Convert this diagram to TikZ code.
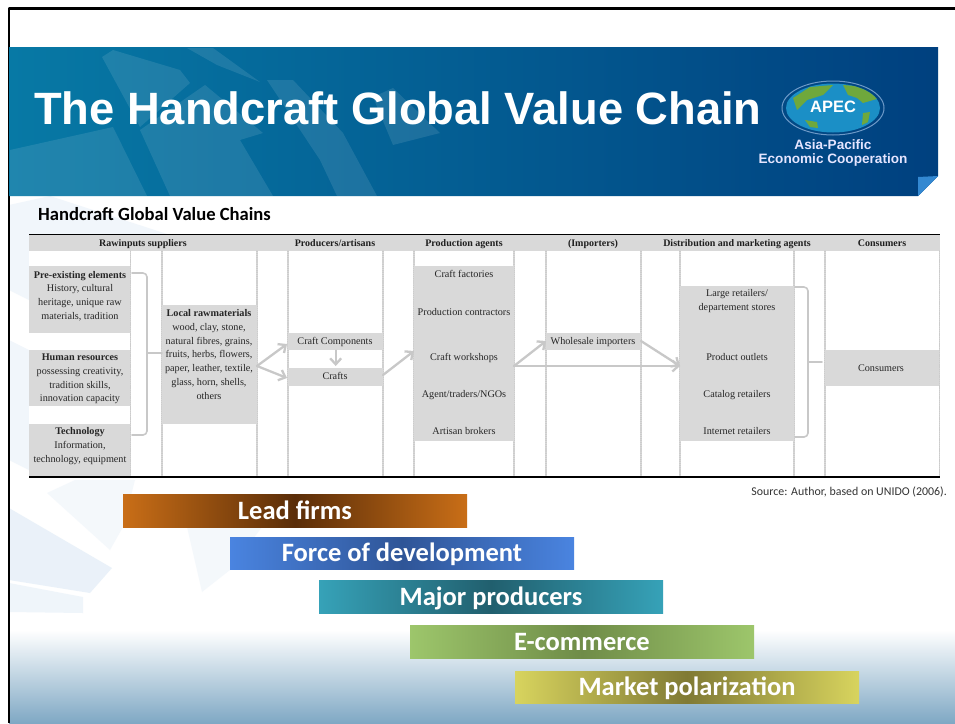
\documentclass[tikz,border=0pt]{standalone}
\usepackage{fontspec}
\setmainfont{Liberation Serif}
\newfontfamily\carlito{Carlito}
\newfontfamily\arialfont{Liberation Sans}
\usepackage{tikz}
\usetikzlibrary{arrows.meta}
\definecolor{cellgray}{HTML}{D9D9D9}
\definecolor{flowgray}{HTML}{C8C8C8}
\definecolor{headdark}{HTML}{00407F}
\definecolor{headmid}{HTML}{0779A5}
\definecolor{bottommid}{HTML}{C6E0E9}
\definecolor{bottomblue}{HTML}{7FA8C4}
\definecolor{wash}{HTML}{DCE9F5}
\definecolor{oceanblue}{HTML}{1B8FC6}
\definecolor{landgreen}{HTML}{6FA83C}
\definecolor{ringblue}{HTML}{6E9AC8}
\definecolor{leadedge}{HTML}{C96E17}
\definecolor{leadmid}{HTML}{5A2D08}
\definecolor{forceedge}{HTML}{4A84E0}
\definecolor{forcemid}{HTML}{2F5597}
\definecolor{majoredge}{HTML}{36A2B8}
\definecolor{majormid}{HTML}{215F6E}
\definecolor{ecomedge}{HTML}{9DC66B}
\definecolor{ecommid}{HTML}{6F8C48}
\definecolor{marketedge}{HTML}{D8D45E}
\definecolor{marketmid}{HTML}{807A35}
\tikzset{
  >={Straight Barb[length=6pt, width=11pt]},
  cell/.style={fill=cellgray, inner sep=0pt, anchor=north west},
  celltext/.style={align=center, inner sep=0pt, text=black!85, font=\fontsize{10.2}{13.7}\selectfont},
  linetext/.style={celltext, text height=9pt, text depth=2.5pt},
  headtext/.style={inner sep=0pt, text=black!88, text height=9pt, text depth=2pt, font=\bfseries\fontsize{10}{12}\selectfont},
  flow/.style={->, flowgray, line width=2.3pt},
  brace/.style={flowgray, line width=1.6pt, rounded corners=4pt},
  sep/.style={black!20, densely dotted, line width=1.1pt},
  bar/.style={inner sep=0pt, minimum width=344pt, text=white, text height=21pt, text depth=4pt, font=\carlito\bfseries\fontsize{26.5}{30}\selectfont},
  bannerleaf/.style={fill=white, opacity=0.1},
}
\begin{document}
\begin{tikzpicture}[x=1pt, y=-1pt, line cap=round, line join=round]
    \useasboundingbox (0,0) rectangle (955,723);
    \fill[white] (0,0) rectangle (955,723);

    % background wash
    \shade[top color=white, middle color=bottommid, bottom color=bottomblue] (9,630) rectangle (955,723);
    \fill[wash, opacity=0.4] (9,205) -- (50,196) -- (170,235) -- (29,235) -- (29,300) -- (9,290) -- cycle;
    \fill[wash, opacity=0.4] (9,340) -- (29,350) -- (29,470) -- (9,460) -- cycle;
    \fill[wash, opacity=0.6] (9,508) -- (112,568) -- (90,593) -- (9,580) -- cycle;
    \fill[wash, opacity=0.45] (9,583) -- (83,597) -- (83,613) -- (9,612) -- cycle;
    \fill[wash, opacity=0.3] (47,493) -- (75,480) -- (135,480) -- (123,527) -- (110,550) -- cycle;
    \fill[wash, opacity=0.3] (187,527) -- (262,527) -- (230,570) -- (202,592) -- cycle;

    % frame
    \draw[black, line width=2.4pt, line cap=butt] (9,723) -- (9,8.5) -- (955,8.5);

    % banner
    \shade[left color=headmid, right color=headdark] (9,47) -- (938,47) -- (938,176) -- (918,196) -- (9,196) -- cycle;
    \fill[bannerleaf] (10,150) -- (113,127) -- (147,196) -- (10,196) -- cycle;
    \fill[bannerleaf] (140,130) -- (205,85) -- (263,133) -- (240,140) -- (273,196) -- (170,196) -- cycle;
    \fill[bannerleaf] (102,57) -- (113,50) -- (180,70) -- (190,83) -- (140,127) -- cycle;
    \fill[bannerleaf] (267,80) -- (293,80) -- (343,133) -- (377,196) -- (337,196) -- (320,160) -- cycle;
    \fill[bannerleaf] (373,97) -- (393,88) -- (440,133) -- (393,145) -- cycle;
    \fill[bannerleaf] (187,48) -- (213,48) -- (260,82) -- (217,65) -- cycle;
    \fill[cyan!60!blue!85!white] (918,196) -- (938,176) -- (918,177) -- cycle;
    \node[inner sep=0pt, anchor=west, text=white, font=\arialfont\bfseries\fontsize{45.3}{50}\selectfont] (title) at (34,108) {The Handcraft Global Value Chain};

    % logo
    \draw[ringblue, line width=1pt] (833,108) ellipse (51 and 27);
    \begin{scope}
        \clip (833,108) ellipse (47 and 24.5);
        \fill[oceanblue] (783,82) rectangle (883,134);
        \fill[landgreen] (793,98) -- (810,87) -- (833,85) -- (823,95) -- (807,100) -- (797,110) -- cycle;
        \fill[landgreen] (843,85) -- (867,87) -- (880,98) -- (863,103) -- (857,98) -- (848,95) -- cycle;
        \fill[landgreen] (805,120) -- (817,122) -- (818,128) -- (810,127) -- cycle;
        \fill[landgreen] (863,113) -- (870,112) -- (868,122) -- (862,125) -- cycle;
    \end{scope}
    \node[inner sep=0pt, text=white, font=\arialfont\bfseries\fontsize{16.5}{18}\selectfont] (apec) at (833,107) {APEC};
    \node[inner sep=0pt, align=center, text=white!90!blue, font=\arialfont\bfseries\fontsize{13.6}{13.5}\selectfont] (apecname) at (833,153) {Asia-Pacific\\Economic Cooperation};

    % table heading
    \node[inner sep=0pt, anchor=west, font=\carlito\bfseries\fontsize{18.6}{20}\selectfont] (tabletitle) at (38,214) {Handcraft Global Value Chains};

    % table body
    \fill[white] (29,235) rectangle (940,477);
    \fill[cellgray] (29,235) rectangle (940,251);
    \draw[sep] (130.5,251) -- (130.5,477);
    \draw[sep] (162,251) -- (162,477);
    \draw[sep] (257,251) -- (257,477);
    \draw[sep] (288,251) -- (288,477);
    \draw[sep] (383,251) -- (383,477);
    \draw[sep] (414,251) -- (414,477);
    \draw[sep] (514,251) -- (514,477);
    \draw[sep] (546,251) -- (546,477);
    \draw[sep] (641,251) -- (641,477);
    \draw[sep] (680,251) -- (680,477);
    \draw[sep] (794,251) -- (794,477);
    \draw[sep] (825,251) -- (825,477);
    \draw[sep] (939.5,251) -- (939.5,477);

    % gray cells
    \node[cell, minimum width=101pt, minimum height=67pt] (preexisting) at (29,266) {};
    \node[cell, minimum width=101pt, minimum height=56pt] (human) at (29,350) {};
    \node[cell, minimum width=101pt, minimum height=53pt] (technology) at (29,424) {};
    \node[cell, minimum width=95pt, minimum height=119pt] (localraw) at (162,305) {};
    \node[cell, minimum width=95pt, minimum height=17pt] (components) at (288,333) {};
    \node[cell, minimum width=95pt, minimum height=18pt] (crafts) at (288,368) {};
    \node[cell, minimum width=100pt, minimum height=175pt] (agents) at (414,266) {};
    \node[cell, minimum width=95pt, minimum height=17pt] (importers) at (546,333) {};
    \node[cell, minimum width=114pt, minimum height=155pt] (retail) at (680,286) {};
    \node[cell, minimum width=114pt, minimum height=36pt] (consumers) at (825,350) {};

    % rules
    \draw[black, line width=1.2pt, line cap=butt] (29,234.5) -- (940,234.5);
    \draw[black, line width=1.4pt, line cap=butt] (29,477) -- (940,477);

    % column titles
    \node[headtext] (headraw) at (143,243) {Rawinputs suppliers};
    \node[headtext] (headprod) at (335,243) {Producers/artisans};
    \node[headtext] (headagents) at (464,243) {Production agents};
    \node[headtext] (headimp) at (593,243) {(Importers)};
    \node[headtext] (headdist) at (737,243) {Distribution and marketing agents};
    \node[headtext] (headcons) at (882,243) {Consumers};

    % cell texts
    \node[celltext] (preexistingtext) at (80,296) {\textbf{Pre-existing elements}\\History, cultural\\heritage, unique raw\\materials, tradition};
    \node[celltext] (humantext) at (80,379) {\textbf{Human resources}\\possessing creativity,\\tradition skills,\\innovation capacity};
    \node[celltext] (technologytext) at (80,446) {\textbf{Technology}\\Information,\\technology, equipment};
    \node[celltext] (localrawtext) at (209,354.5) {\textbf{Local rawmaterials}\\wood, clay, stone,\\natural fibres, grains,\\fruits, herbs, flowers,\\paper, leather, textile,\\glass, horn, shells,\\others};
    \node[linetext] (componentstext) at (335,341) {Craft Components};
    \node[linetext] (craftstext) at (335,376) {Crafts};
    \node[linetext] (factoriestext) at (464,274.5) {Craft factories};
    \node[linetext] (contractorstext) at (464,312.5) {Production contractors};
    \node[linetext] (workshopstext) at (464,357.5) {Craft workshops};
    \node[linetext] (traderstext) at (464,394) {Agent/traders/NGOs};
    \node[linetext] (brokerstext) at (464,431.5) {Artisan brokers};
    \node[linetext] (importerstext) at (593,341) {Wholesale importers};
    \node[celltext] (largetext) at (737,301) {Large retailers/\\departement stores};
    \node[linetext] (outletstext) at (737,357.5) {Product outlets};
    \node[linetext] (catalogtext) at (737,394) {Catalog retailers};
    \node[linetext] (internettext) at (737,431.5) {Internet retailers};
    \node[linetext] (consumerstext) at (881,368.5) {Consumers};

    % flows
    \coordinate (rawout) at (257,366);
    \coordinate (compin) at (287,344);
    \coordinate (craftin) at (287,378);
    \coordinate (craftout) at (383,375);
    \coordinate (agentin) at (414,351);
    \coordinate (agentout) at (514,366);
    \coordinate (impin) at (546,341);
    \coordinate (impout) at (641,341);
    \coordinate (retailin) at (680,366);
    \draw[flow] (rawout) -- (compin);
    \draw[flow] (rawout) -- (craftin);
    \draw[flow, shorten >=2pt] (components) -- (crafts);
    \draw[flow] (craftout) -- (agentin);
    \draw[flow] (agentout) -- (impin);
    \draw[flow] (impout) -- (retailin);
    \draw[flow] (agentout) -- (retailin);

    % braces
    \coordinate (bracetop) at (132,273);
    \coordinate (bracebot) at (132,435);
    \coordinate (bracetip) at (162,353);
    \draw[brace] (bracetop) -- (147,273) -- (147,435) -- (bracebot);
    \draw[brace] (147,353) -- (bracetip);
    \coordinate (rbracetop) at (795,287);
    \coordinate (rbracebot) at (795,437);
    \coordinate (rbracetip) at (822,362);
    \draw[brace] (rbracetop) -- (808,287) -- (808,437) -- (rbracebot);
    \draw[brace] (808,362) -- (rbracetip);

    % source
    \node[inner sep=0pt, anchor=east, text=black!80, font=\carlito\fontsize{11.9}{13}\selectfont] (source) at (947,492) {Source: Author, based on UNIDO (2006).};

    % bars
    \node[bar, minimum height=33pt, left color=leadedge, right color=leadedge, middle color=leadmid] (leadfirms) at (295,510.5) {Lead firms};
    \node[bar, minimum height=32pt, left color=forceedge, right color=forceedge, middle color=forcemid] (force) at (402,553) {Force of development};
    \node[bar, minimum height=33pt, left color=majoredge, right color=majoredge, middle color=majormid] (major) at (491,596.5) {Major producers};
    \node[bar, minimum height=33pt, left color=ecomedge, right color=ecomedge, middle color=ecommid] (ecommerce) at (582,641.5) {E-commerce};
    \node[bar, minimum height=32pt, left color=marketedge, right color=marketedge, middle color=marketmid] (polarization) at (687,687) {Market polarization};
\end{tikzpicture}
\end{document}
